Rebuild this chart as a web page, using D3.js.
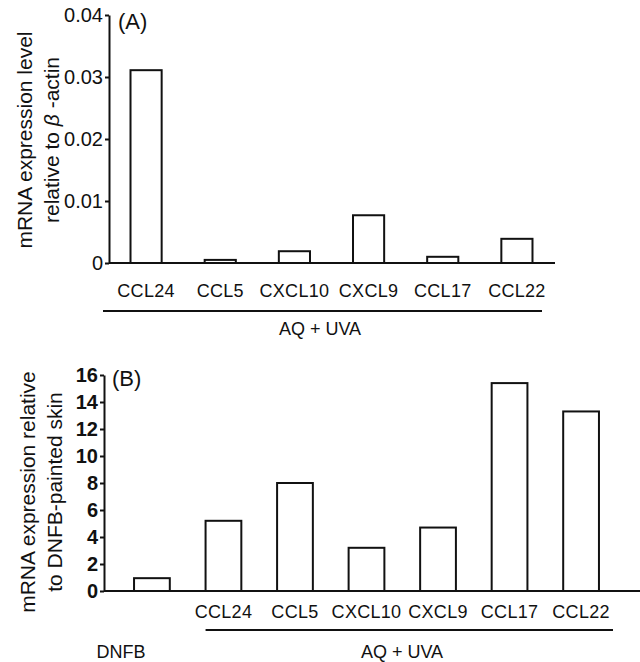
<!DOCTYPE html>
<html>
<head>
<meta charset="utf-8">
<script src="https://cdn.jsdelivr.net/npm/d3@7"></script>
<style>
  html, body { margin: 0; padding: 0; background: #fff; }
  svg { display: block; font-family: "Liberation Sans", Arial, sans-serif; }
</style>
</head>
<body>
<svg id="chart" width="640" height="662"></svg>
<script>
// ---- Data ----
const catsA = ["CCL24", "CCL5", "CXCL10", "CXCL9", "CCL17", "CCL22"];
const valsA = [0.0311, 0.0005, 0.0019, 0.0077, 0.0010, 0.0039];
const ticksA = [0, 0.01, 0.02, 0.03, 0.04];

const catsB = ["DNFB", "CCL24", "CCL5", "CXCL10", "CXCL9", "CCL17", "CCL22"];
const valsB = [0.95, 5.2, 8.0, 3.2, 4.7, 15.4, 13.3];
const ticksB = [0, 2, 4, 6, 8, 10, 12, 14, 16];

const groupLabel = "AQ + UVA";
const ink = "#111";

const svg = d3.select("#chart");

// ================= Panel A =================
const A = { left: 109, right: 555, top: 15, bottom: 263 };
const xA = d3.scaleBand().domain(catsA).range([A.left, A.right - 1])
  .paddingInner(0.58).paddingOuter(0.29);
const yA = d3.scaleLinear().domain([0, 0.04]).range([A.bottom, A.top]);

const gA = svg.append("g");
// bars
gA.selectAll("rect.bar").data(catsA).join("rect")
  .attr("class", "bar")
  .attr("x", d => xA(d))
  .attr("width", xA.bandwidth())
  .attr("y", (d, i) => yA(valsA[i]))
  .attr("height", (d, i) => yA(0) - yA(valsA[i]))
  .attr("fill", "#fff").attr("stroke", ink).attr("stroke-width", 2);

// y axis
const yAxisA = d3.axisLeft(yA).tickValues(ticksA).tickSizeInner(4).tickSizeOuter(0).tickPadding(2)
  .tickFormat(d => d === 0 ? "0" : d3.format(".2f")(d));
const yaG = gA.append("g").attr("transform", `translate(${A.left},0)`).call(yAxisA);
yaG.select(".domain").attr("stroke", ink).attr("stroke-width", 2);
yaG.selectAll(".tick line").attr("stroke", ink).attr("stroke-width", 2);
yaG.selectAll(".tick text").attr("fill", ink).style("font-size", "20px")
  .attr("font-family", "Liberation Sans, Arial, sans-serif");

// x baseline
gA.append("line").attr("x1", A.left).attr("x2", A.right)
  .attr("y1", yA(0)).attr("y2", yA(0)).attr("stroke", ink).attr("stroke-width", 2);

// x labels
const xAxisA = d3.axisBottom(xA).tickSize(0).tickPadding(0);
const xaG = gA.append("g").attr("transform", `translate(0,${A.bottom + 34})`).call(xAxisA);
xaG.select(".domain").remove();
xaG.selectAll(".tick text").attr("fill", ink).attr("dy", 0).style("font-size", "18px")
  .attr("font-family", "Liberation Sans, Arial, sans-serif").style("letter-spacing", "0.3px");

// group line & label
gA.append("line").attr("x1", A.left - 6).attr("x2", 542).attr("y1", 311).attr("y2", 311)
  .attr("stroke", ink).attr("stroke-width", 2);
gA.append("text").attr("x", 320).attr("y", 335).attr("text-anchor", "middle")
  .style("font-size", "18px").attr("fill", ink).text(groupLabel);

// panel letter
gA.append("text").attr("x", 118).attr("y", 29).style("font-size", "22px").attr("fill", ink).text("(A)");

// y title
const tA = gA.append("text").attr("transform", "translate(0,140) rotate(-90)")
  .attr("text-anchor", "middle").style("font-size", "21px").attr("fill", ink);
tA.append("tspan").attr("x", 0).attr("y", 32).text("mRNA expression level");
const tA2 = tA.append("tspan").attr("x", 0).attr("y", 59);
tA2.text("relative to ");
tA.append("tspan").style("font-style", "italic").text("β");
tA.append("tspan").text(" -actin");

// ================= Panel B =================
const B = { left: 104, right: 640, top: 375, bottom: 591 };
const xB = d3.scaleBand().domain(catsB).range([B.left, 629])
  .paddingInner(0.5).paddingOuter(0.42);
const yB = d3.scaleLinear().domain([0, 16]).range([B.bottom, B.top]);

const gB = svg.append("g");
gB.selectAll("rect.bar").data(catsB).join("rect")
  .attr("class", "bar")
  .attr("x", d => xB(d))
  .attr("width", xB.bandwidth())
  .attr("y", (d, i) => yB(valsB[i]))
  .attr("height", (d, i) => yB(0) - yB(valsB[i]))
  .attr("fill", "#fff").attr("stroke", ink).attr("stroke-width", 2);

const yAxisB = d3.axisLeft(yB).tickValues(ticksB).tickSizeInner(4).tickSizeOuter(0).tickPadding(2)
  .tickFormat(d3.format("d"));
const ybG = gB.append("g").attr("transform", `translate(${B.left},0)`).call(yAxisB);
ybG.select(".domain").attr("stroke", ink).attr("stroke-width", 2);
ybG.selectAll(".tick line").attr("stroke", ink).attr("stroke-width", 2);
ybG.selectAll(".tick text").attr("fill", ink).style("font-size", "20px").style("font-weight", "bold")
  .attr("font-family", "Liberation Sans, Arial, sans-serif");

gB.append("line").attr("x1", B.left).attr("x2", B.right)
  .attr("y1", yB(0)).attr("y2", yB(0)).attr("stroke", ink).attr("stroke-width", 2);

const xAxisB = d3.axisBottom(xB).tickSize(0).tickPadding(0)
  .tickFormat(d => d === "DNFB" ? "" : d);
const xbG = gB.append("g").attr("transform", `translate(0,${B.bottom + 27})`).call(xAxisB);
xbG.select(".domain").remove();
xbG.selectAll(".tick text").attr("fill", ink).attr("dy", 0).style("font-size", "18px")
  .attr("font-family", "Liberation Sans, Arial, sans-serif").style("letter-spacing", "0.3px");

// DNFB label below
gB.append("text").attr("x", xB("DNFB") + xB.bandwidth() / 2 - 31).attr("y", 658)
  .attr("text-anchor", "middle").style("font-size", "18px").attr("fill", ink).text("DNFB");

// group line & label
gB.append("line").attr("x1", xB("CCL24")).attr("x2", 613).attr("y1", 630).attr("y2", 630)
  .attr("stroke", ink).attr("stroke-width", 2);
gB.append("text").attr("x", 402).attr("y", 658).attr("text-anchor", "middle")
  .style("font-size", "18px").attr("fill", ink).text(groupLabel);

gB.append("text").attr("x", 112).attr("y", 386).style("font-size", "22px").attr("fill", ink).text("(B)");

const tB = gB.append("text").attr("transform", "translate(0,492) rotate(-90)")
  .attr("text-anchor", "middle").style("font-size", "21px").attr("fill", ink);
tB.append("tspan").attr("x", 0).attr("y", 35).text("mRNA expression relative");
tB.append("tspan").attr("x", 0).attr("y", 62).text("to DNFB-painted skin");
</script>
</body>
</html>
